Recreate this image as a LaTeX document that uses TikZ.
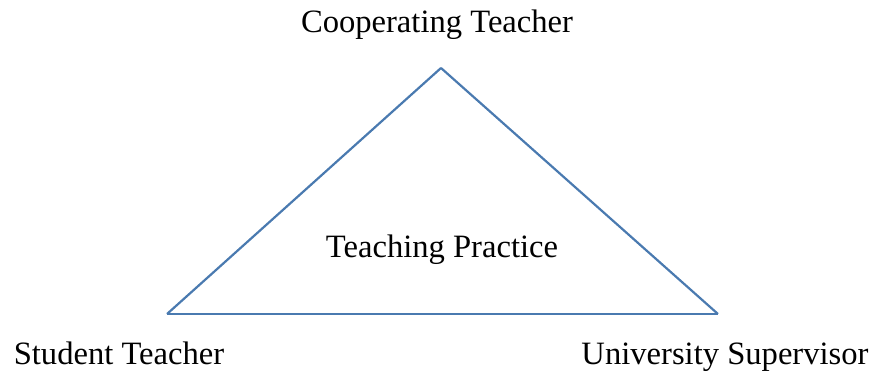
\documentclass[tikz,border=0pt]{standalone}
\usepackage{fontspec}
\setmainfont{Liberation Serif}
\definecolor{edgeblue}{RGB}{74,122,176}

\begin{document}
\begin{tikzpicture}
  [x=1pt,y=-1pt,every node/.style={inner sep=0pt,anchor=base,font=\fontsize{32.6}{38}\selectfont}]
  \useasboundingbox (0,0) rectangle (873,373);
  \coordinate (top) at (441,68);
  \coordinate (left) at (167,314);
  \coordinate (right) at (718,314);

  \node (coop) at (437,32) {Cooperating Teacher};
  \node (prac) at (442,257) {Teaching Practice};
  \node (stud) at (119,364) {Student Teacher};
  \node (univ) at (725,364) {University Supervisor};

  \foreach \from/\to in {top/left,left/right,right/top}
    \draw[edgeblue,line width=2.2pt,line join=miter] (\from) -- (\to);

\end{tikzpicture}
\end{document}
